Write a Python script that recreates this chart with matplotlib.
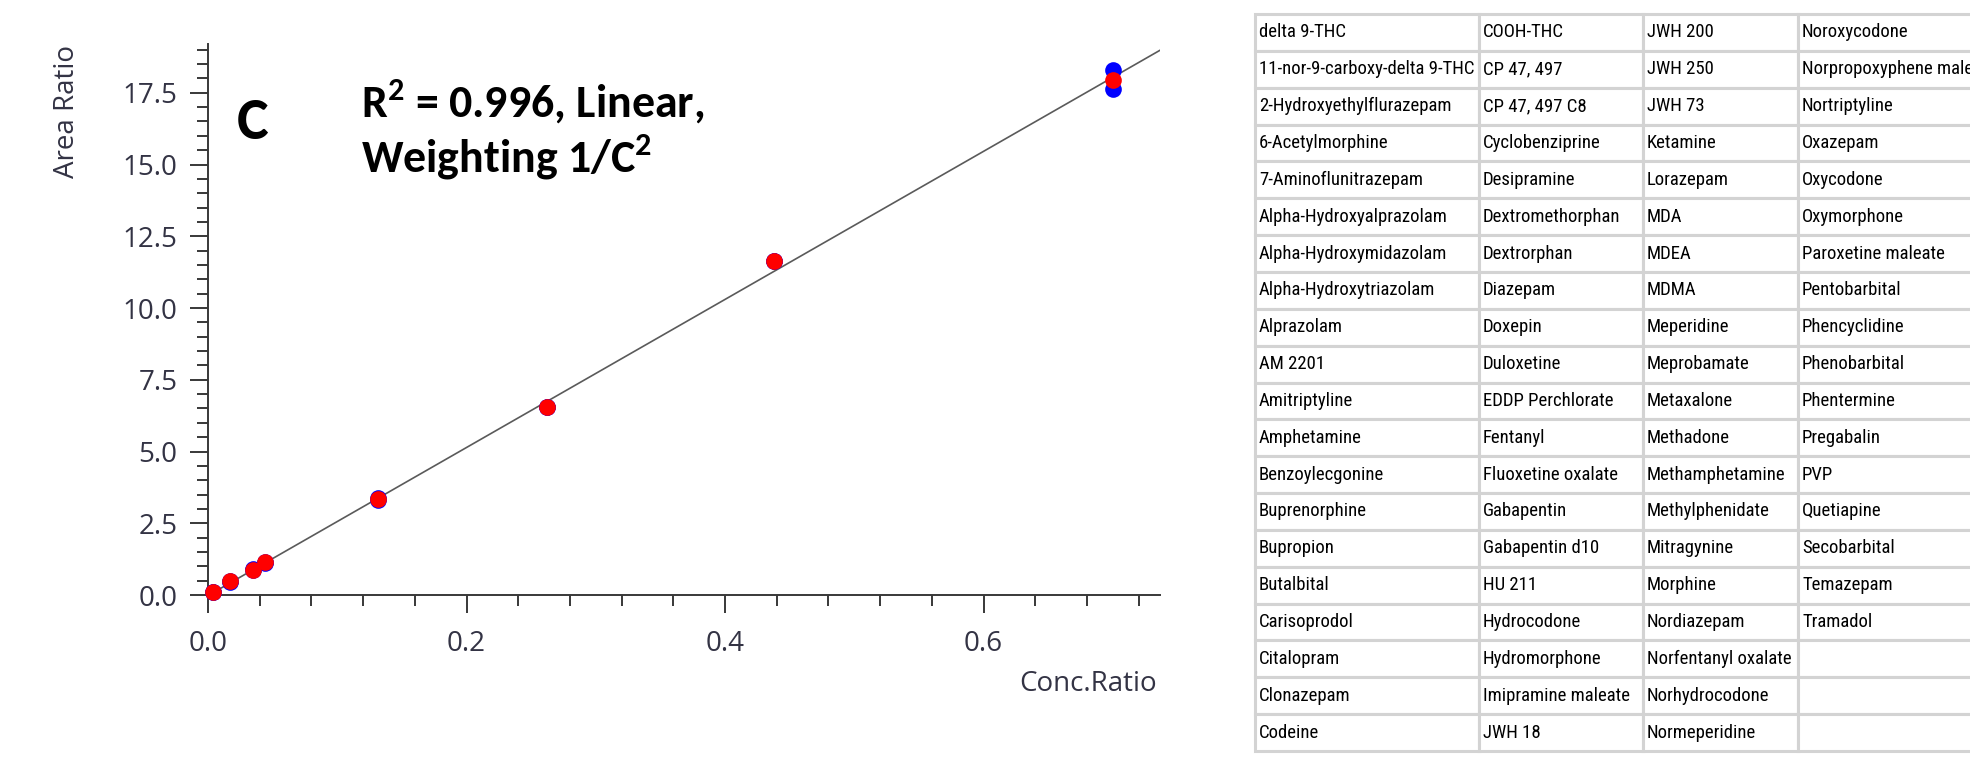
import numpy as np
import matplotlib
matplotlib.use('Agg')
from matplotlib import pyplot as plt
from matplotlib import font_manager as fm
from matplotlib.ticker import MultipleLocator, FormatStrFormatter

# Calibration data
conc_ratio = [0.0038, 0.0172, 0.035, 0.044, 0.1315, 0.2626, 0.438, 0.70]
area_mean = [0.09, 0.48, 0.88, 1.14, 3.34, 6.55, 11.64, 17.96]
area_rep1 = [0.09, 0.47, 0.87, 1.15, 3.37, 6.56, 11.63, 18.29]
area_rep2 = [0.09, 0.49, 0.89, 1.13, 3.31, 6.54, 11.65, 17.63]
fit_slope = 25.8
fit_intercept = -0.02
x_max = 0.7365
y_max = 19.2

# Analyte list shown in the table (4 columns, 20 rows)
col1 = ['delta 9-THC', '11-nor-9-carboxy-delta 9-THC', '2-Hydroxyethylflurazepam', '6-Acetylmorphine',
        '7-Aminoflunitrazepam', 'Alpha-Hydroxyalprazolam', 'Alpha-Hydroxymidazolam', 'Alpha-Hydroxytriazolam',
        'Alprazolam', 'AM 2201', 'Amitriptyline', 'Amphetamine', 'Benzoylecgonine', 'Buprenorphine',
        'Bupropion', 'Butalbital', 'Carisoprodol', 'Citalopram', 'Clonazepam', 'Codeine']
col2 = ['COOH-THC', 'CP 47, 497', 'CP 47, 497 C8', 'Cyclobenziprine', 'Desipramine', 'Dextromethorphan',
        'Dextrorphan', 'Diazepam', 'Doxepin', 'Duloxetine', 'EDDP Perchlorate', 'Fentanyl',
        'Fluoxetine oxalate', 'Gabapentin', 'Gabapentin d10', 'HU 211', 'Hydrocodone', 'Hydromorphone',
        'Imipramine maleate', 'JWH 18']
col3 = ['JWH 200', 'JWH 250', 'JWH 73', 'Ketamine', 'Lorazepam', 'MDA', 'MDEA', 'MDMA', 'Meperidine',
        'Meprobamate', 'Metaxalone', 'Methadone', 'Methamphetamine', 'Methylphenidate', 'Mitragynine',
        'Morphine', 'Nordiazepam', 'Norfentanyl oxalate', 'Norhydrocodone', 'Normeperidine']
col4 = ['Noroxycodone', 'Norpropoxyphene maleate', 'Nortriptyline', 'Oxazepam', 'Oxycodone', 'Oxymorphone',
        'Paroxetine maleate', 'Pentobarbital', 'Phencyclidine', 'Phenobarbital', 'Phentermine', 'Pregabalin',
        'PVP', 'Quetiapine', 'Secobarbital', 'Temazepam', 'Tramadol', '', '', '']

# Pick fonts that exist in the sandbox
font_names = {f.name for f in fm.fontManager.ttflist}

def pick(cands, default='DejaVu Sans'):
    for c in cands:
        if c in font_names:
            return c
    return default

ui_font = pick(['Open Sans', 'Noto Sans', 'Lato'])
bold_font = pick(['Carlito', 'Lato', 'Open Sans'])
narrow_font = pick(['Liberation Sans Narrow', 'Roboto Condensed', 'Open Sans Condensed',
                    'Noto Sans Condensed', 'DejaVu Sans Condensed'], default='')
if narrow_font:
    table_font, table_size = narrow_font, 13.5
else:
    table_font, table_size = pick(['Liberation Sans', 'Noto Sans']), 11.5

plt.rcParams['font.family'] = [ui_font, 'DejaVu Sans']
# superscript "2" drawn with the same bold face as the annotation
plt.rcParams['mathtext.fontset'] = 'custom'
plt.rcParams['mathtext.rm'] = bold_font + ':bold'
plt.rcParams['mathtext.bf'] = bold_font + ':bold'

W, H = 1970, 766
fig = plt.figure(figsize=(W / 100, H / 100), dpi=100)

# Calibration plot
ax_left, ax_right, ax_bottom, ax_top = 208, 1160, 595, 44
ax = fig.add_axes([ax_left / W, 1 - ax_bottom / H, (ax_right - ax_left) / W, (ax_bottom - ax_top) / H])

fit_x = np.array([0, x_max])
ax.plot(fit_x, fit_slope * fit_x + fit_intercept, color='#5a5a5a', lw=1.2, zorder=2)
ax.plot(conc_ratio, area_rep1, 'o', color='#0000ff', ms=12, mec='none', clip_on=False, zorder=3)
ax.plot(conc_ratio, area_rep2, 'o', color='#0000ff', ms=12, mec='none', clip_on=False, zorder=3)
ax.plot(conc_ratio, area_mean, 'o', color='#ff0000', ms=12, mec='none', clip_on=False, zorder=4)

ax.set_xlim(0, x_max)
ax.set_ylim(0, y_max)
for s in ['top', 'right']:
    ax.spines[s].set_visible(False)
for s in ['left', 'bottom']:
    ax.spines[s].set_color('#383838')
    ax.spines[s].set_linewidth(1.4)

ax.xaxis.set_major_locator(MultipleLocator(0.2))
ax.xaxis.set_minor_locator(MultipleLocator(0.04))
ax.yaxis.set_major_locator(MultipleLocator(2.5))
ax.yaxis.set_minor_locator(MultipleLocator(0.5))
ax.xaxis.set_major_formatter(FormatStrFormatter('%.1f'))
ax.yaxis.set_major_formatter(FormatStrFormatter('%.1f'))
ax.tick_params(which='major', length=13, width=1.4, color='#383838', labelsize=20, labelcolor='#333344')
ax.tick_params(which='minor', length=8, width=1.4, color='#383838')
ax.tick_params(axis='x', which='major', pad=12)
ax.tick_params(axis='y', which='major', pad=9)

ax.set_ylabel('Area Ratio', fontsize=20, color='#333344', va='center')
ax.yaxis.set_label_coords((67 - ax_left) / (ax_right - ax_left), (ax_bottom - 111) / (ax_bottom - ax_top))
ax.set_xlabel('Conc.Ratio', fontsize=20, color='#333344', ha='right', va='center')
ax.xaxis.set_label_coords((1157 - ax_left) / (ax_right - ax_left), (ax_bottom - 684) / (ax_bottom - ax_top))

# Panel letter and fit annotation
fig.text(237 / W, 1 - 139 / H, 'C', fontsize=43, fontweight='bold', family=bold_font, va='baseline')
fig.text(361 / W, 1 - 118 / H, r'R$^{\mathrm{2}}$ = 0.996, Linear,', fontsize=33, fontweight='bold',
         family=bold_font, va='baseline')
fig.text(361 / W, 1 - 173 / H, r'Weighting 1/C$^{\mathrm{2}}$', fontsize=33, fontweight='bold',
         family=bold_font, va='baseline')

# Analyte table (runs off the right edge like the reference)
col_px = [224, 164, 155, 200]
tab_left, tab_top, tab_bottom = 1255, 14, 751
ax_t = fig.add_axes([tab_left / W, 1 - tab_bottom / H, sum(col_px) / W, (tab_bottom - tab_top) / H])
ax_t.axis('off')
cells = [list(r) for r in zip(col1, col2, col3, col4)]
tab = ax_t.table(cellText=cells, colWidths=[c / sum(col_px) for c in col_px], cellLoc='left',
                 bbox=[0, 0, 1, 1])
tab.auto_set_font_size(False)
for (r, c), cell in tab.get_celld().items():
    cell.set_edgecolor('#d3d3d3')
    cell.set_linewidth(2.2)
    cell.PAD = 4 / col_px[c]
    cell.get_text().set_fontsize(table_size)
    cell.get_text().set_family(table_font)
    cell.get_text().set_color('black')

fig.savefig('out.png', dpi=100)
